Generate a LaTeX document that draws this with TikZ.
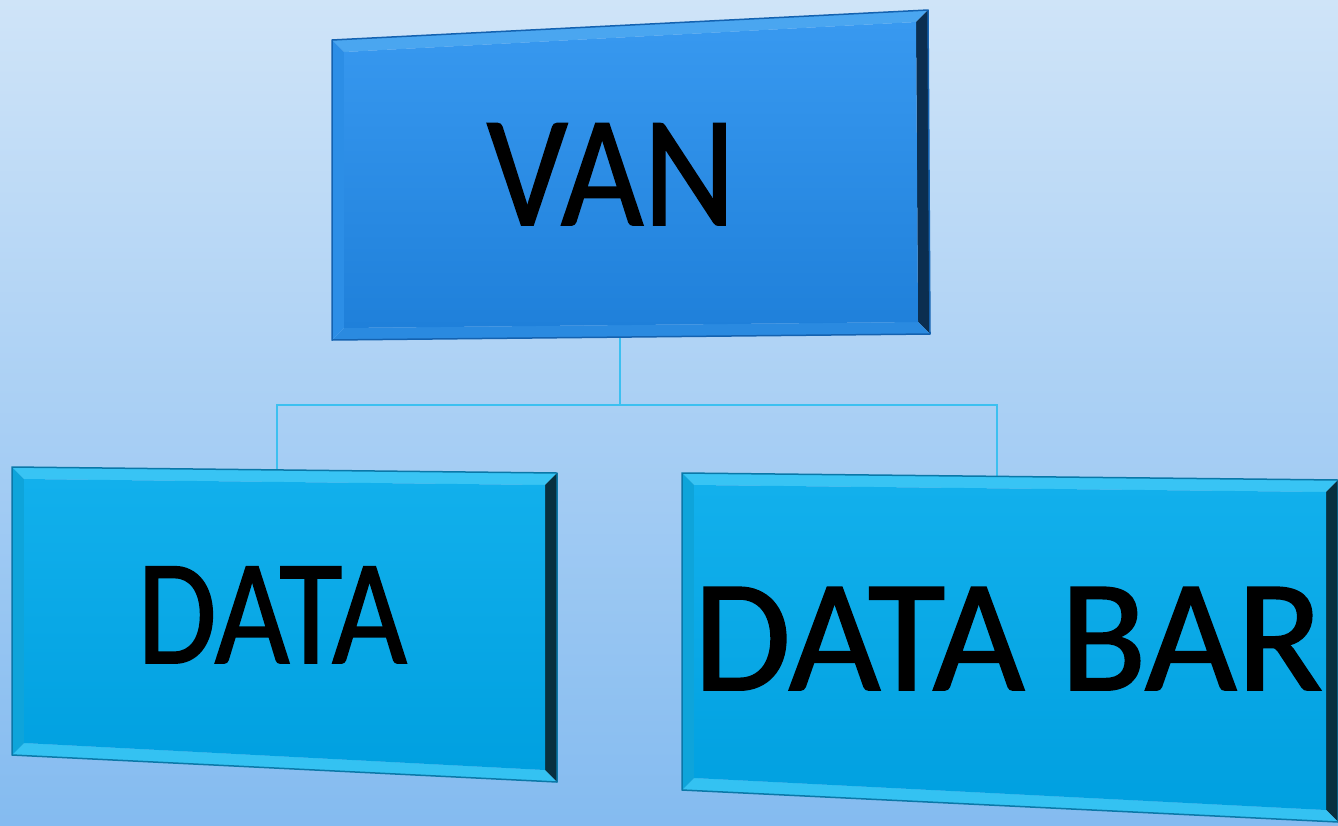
\documentclass[tikz,border=0pt]{standalone}
\usepackage{fontspec}
\setmainfont{Carlito}
\newfontfamily\lblfont{Carlito}[FakeBold=1.2]
\usepackage{graphicx}
\usetikzlibrary{calc}
\definecolor{bgtop}{HTML}{CFE4F8}
\definecolor{bgbot}{HTML}{84BBF0}
\definecolor{conncol}{HTML}{3CC0F0}
% VAN box colours
\definecolor{vtop}{HTML}{4AA6F0}
\definecolor{vright}{HTML}{0B2E50}
\definecolor{vbot}{HTML}{2A8AE0}
\definecolor{vleft}{HTML}{2C8EE6}
\definecolor{vin1}{HTML}{3899F0}
\definecolor{vin2}{HTML}{1F80DA}
\definecolor{vedge}{HTML}{1462B0}
% DATA box colours
\definecolor{dtop}{HTML}{38C4F4}
\definecolor{dright}{HTML}{08303F}
\definecolor{dbot}{HTML}{34C2F2}
\definecolor{dleft}{HTML}{0EA4DA}
\definecolor{din1}{HTML}{12B0EC}
\definecolor{din2}{HTML}{00A0E0}
\definecolor{dedge}{HTML}{0A78A8}
\newcommand\bevbox[5]{%
  \coordinate (o1) at (#1); \coordinate (o2) at (#2);
  \coordinate (o3) at (#3); \coordinate (o4) at (#4);
  \coordinate (i1) at ($(o1)+(12,12)$); \coordinate (i2) at ($(o2)+(-12,12)$);
  \coordinate (i3) at ($(o3)+(-12,-12)$); \coordinate (i4) at ($(o4)+(12,-12)$);
  \fill[#5top] (o1)--(o2)--(i2)--(i1)--cycle;
  \fill[#5right] (o2)--(o3)--(i3)--(i2)--cycle;
  \fill[#5bot] (o3)--(o4)--(i4)--(i3)--cycle;
  \fill[#5left] (o4)--(o1)--(i1)--(i4)--cycle;
  \shade[top color=#5in1, bottom color=#5in2] (i1)--(i2)--(i3)--(i4)--cycle;
  \draw[#5edge, line width=1.5pt, line join=round] (o1)--(o2)--(o3)--(o4)--cycle;
}
\tikzset{
  conn/.style={draw=conncol, line width=1.6pt},
  lbl/.style={anchor=base, inner sep=0pt, text=black}
}
\begin{document}
\begin{tikzpicture}[x=1pt, y=-1pt]
\shade[top color=bgtop, bottom color=bgbot] (0,0) rectangle (1338,825);
\useasboundingbox (0,0) rectangle (1338,825);
% connectors
\coordinate (vanb) at (620,336);
\coordinate (junc) at (620,405);
\coordinate (datat) at (277,470);
\coordinate (databart) at (997,478);
\draw[conn] (vanb) -- (junc);
\draw[conn] (junc) -| (datat);
\draw[conn] (junc) -| (databart);
% boxes
\bevbox{332,40}{928,10}{930,334}{332,340}{v}
\bevbox{12,467}{557,473}{557,782}{12,755}{d}
\bevbox{682,473}{1338,480}{1338,822}{682,790}{d}
% labels
\node[lbl, font=\lblfont\fontsize{158}{160}\selectfont] (van) at (611,225) {\scalebox{0.9}[1]{VAN}};
\node[lbl, font=\lblfont\fontsize{150}{152}\selectfont] (data) at (272,663) {\scalebox{0.86}[1]{DATA}};
\node[lbl, font=\lblfont\fontsize{160}{162}\selectfont] (databar) at (1008,690) {\scalebox{0.99}[1]{DATA BAR}};
\end{tikzpicture}
\end{document}
